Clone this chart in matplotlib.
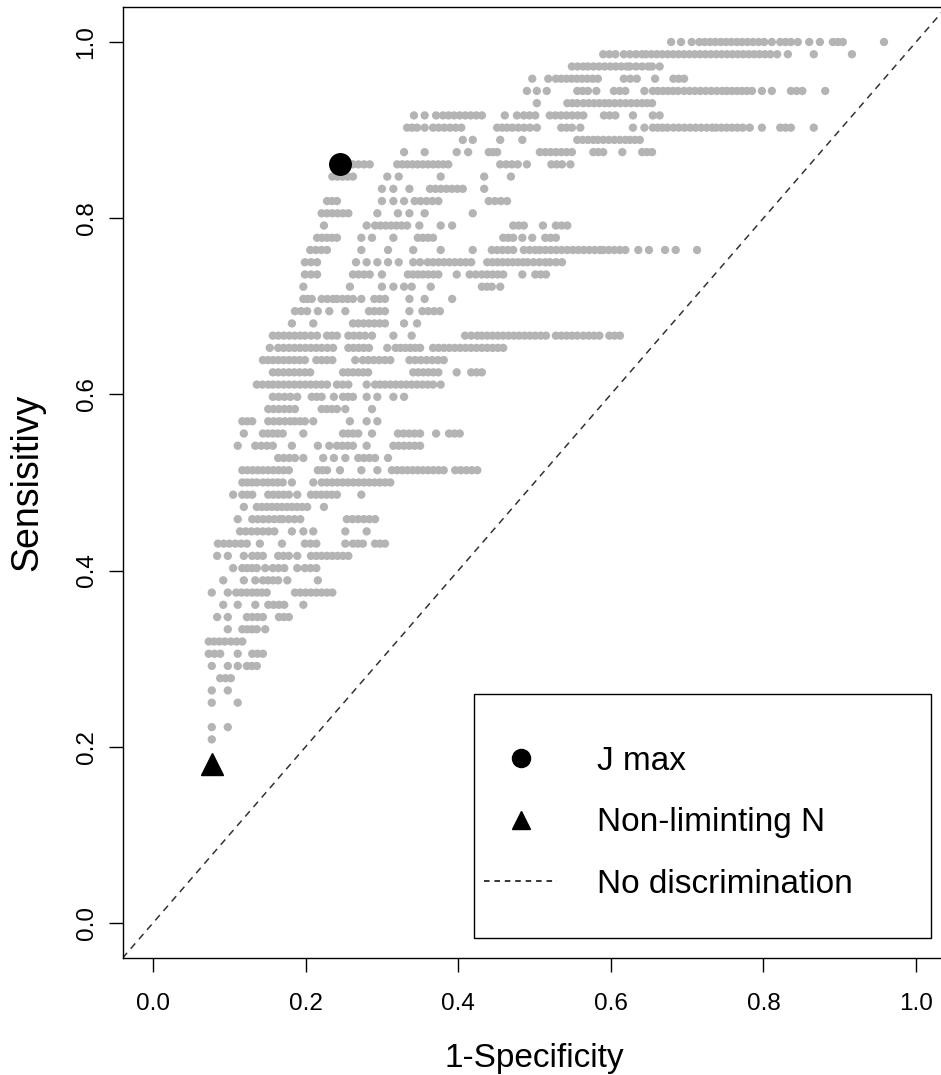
import numpy as np
import matplotlib
matplotlib.use('Agg')
import matplotlib.pyplot as plt
from matplotlib.patches import Rectangle
from matplotlib.lines import Line2D

plt.rcParams['font.family'] = ['Liberation Sans', 'DejaVu Sans']
plt.rcParams['lines.scale_dashes'] = False

# sensitivity comes in steps of 1/72, 1-specificity on a fine grid
N_POS = 72
X_STEP = 1 / 144

# row k (sensitivity = k/72): single x values or (start, end) runs of adjacent dots
ROWS = {
    72: [0.679, 0.692, 0.706, (0.716, 0.737), (0.744, 0.772), (0.779, 0.801), 0.811,
         (0.822, 0.836), 0.845, 0.860, 0.874, (0.891, 0.904), 0.958],
    71: [(0.590, 0.606), (0.617, 0.641), (0.646, 0.710), (0.717, 0.809), 0.818, 0.832,
         0.866, 0.916],
    70: [(0.549, 0.564), (0.570, 0.621), (0.625, 0.649), (0.654, 0.664)],
    69: [0.497, 0.518, (0.528, 0.583), (0.617, 0.634), 0.658, (0.682, 0.696)],
    68: [0.490, 0.503, 0.516, (0.556, 0.570), 0.581, (0.604, 0.619), 0.644, (0.655, 0.688),
         (0.696, 0.746), (0.752, 0.785), 0.798, 0.811, (0.836, 0.851), 0.881],
    67: [0.503, (0.543, 0.556), (0.564, 0.592), (0.598, 0.634), (0.641, 0.654)],
    66: [0.342, 0.356, 0.371, (0.380, 0.431), 0.461, 0.477, (0.486, 0.501), (0.520, 0.564),
         (0.591, 0.606), 0.629, (0.655, 0.664)],
    65: [(0.333, 0.346), 0.356, (0.367, 0.404), (0.451, 0.464), (0.471, 0.494), 0.503,
         (0.535, 0.549), 0.560, 0.629, 0.644, (0.655, 0.674), (0.682, 0.733), (0.738, 0.773),
         0.782, 0.798, (0.822, 0.836), 0.866],
    64: [0.406, 0.419, 0.455, 0.484, (0.556, 0.577), (0.583, 0.619), (0.625, 0.638)],
    63: [0.329, 0.356, 0.398, 0.413, (0.440, 0.451), (0.507, 0.549), (0.577, 0.590), 0.615,
         (0.641, 0.654)],
    62: [0.245, (0.262, 0.284), (0.320, 0.387), (0.455, 0.478), 0.490, (0.522, 0.536), 0.547],
    61: [(0.235, 0.262), 0.307, 0.322, 0.377, 0.434, 0.469],
    60: [0.300, 0.315, 0.336, (0.363, 0.406), 0.434],
    59: [(0.228, 0.241), 0.300, 0.315, 0.329, (0.343, 0.374), (0.440, 0.464)],
    58: [(0.221, 0.256), 0.294, 0.321, 0.336, 0.356, 0.419],
    57: [0.224, 0.280, (0.291, 0.333), 0.349, 0.377, 0.392, (0.472, 0.486), 0.511,
         (0.528, 0.543)],
    56: [(0.215, 0.241), 0.273, 0.287, 0.315, (0.347, 0.367), (0.459, 0.472), 0.484, 0.497,
         (0.514, 0.528)],
    55: [(0.206, 0.228), 0.273, 0.308, 0.341, 0.377, 0.419, (0.444, 0.472), (0.486, 0.501),
         (0.507, 0.586), (0.590, 0.619), 0.636, 0.650, 0.671, 0.685, 0.713],
    54: [(0.199, 0.215), 0.266, 0.280, 0.294, 0.308, 0.322, 0.341, (0.350, 0.360),
         (0.367, 0.417), (0.438, 0.485), (0.491, 0.514), (0.520, 0.536)],
    53: [(0.199, 0.215), (0.262, 0.284), 0.300, (0.334, 0.374), 0.398, (0.415, 0.431),
         (0.438, 0.459), 0.484, (0.501, 0.515)],
    52: [0.197, 0.258, 0.300, 0.315, 0.329, 0.339, 0.364, (0.431, 0.444), 0.455],
    51: [(0.197, 0.208), (0.221, 0.236), (0.241, 0.262), 0.273, (0.290, 0.304), 0.336,
         0.356, 0.392],
    50: [(0.186, 0.202), 0.216, 0.231, 0.252, (0.283, 0.304), 0.336, (0.353, 0.376)],
    49: [0.182, 0.210, (0.262, 0.304), 0.329, 0.346],
    48: [(0.157, 0.193), (0.199, 0.215), (0.228, 0.241), (0.256, 0.278), 0.287, 0.315, 0.339,
         (0.409, 0.425), (0.431, 0.515), (0.528, 0.556), (0.564, 0.585), (0.598, 0.612)],
    47: [0.153, (0.164, 0.214), (0.221, 0.236), (0.256, 0.283), 0.307, (0.318, 0.350),
         (0.367, 0.431), (0.438, 0.459)],
    46: [(0.144, 0.157), (0.164, 0.199), (0.214, 0.235), 0.265, (0.275, 0.311), (0.336, 0.381)],
    45: [(0.157, 0.206), (0.249, 0.262), (0.269, 0.282), (0.341, 0.374), 0.398, (0.417, 0.431)],
    44: [(0.136, 0.151), (0.157, 0.228), (0.241, 0.256), 0.280, (0.291, 0.304),
         (0.311, 0.367), 0.377],
    43: [(0.157, 0.180), 0.189, (0.208, 0.221), 0.237, (0.249, 0.262), 0.280, 0.294, 0.315,
         0.329],
    42: [(0.151, 0.186), (0.221, 0.241), 0.252, 0.287],
    41: [(0.117, 0.130), (0.151, 0.180), (0.186, 0.199), 0.210, 0.258, 0.280, 0.294],
    40: [0.119, (0.144, 0.170), 0.197, (0.249, 0.269), 0.287, (0.321, 0.350), 0.371,
         (0.388, 0.402)],
    39: [0.111, (0.134, 0.157), 0.182, 0.216, 0.231, (0.241, 0.262), 0.280, (0.315, 0.350)],
    38: [(0.164, 0.186), 0.197, 0.223, 0.237, 0.252, (0.269, 0.291), 0.308],
    37: [(0.117, 0.178), (0.216, 0.228), 0.245, 0.273, 0.294, (0.313, 0.381), (0.396, 0.425)],
    36: [(0.117, 0.136), (0.144, 0.170), 0.182, 0.210, (0.221, 0.311)],
    35: [0.105, (0.117, 0.130), (0.151, 0.178), 0.189, (0.207, 0.241), 0.273],
    34: [0.119, (0.136, 0.202), 0.224],
    33: [0.111, (0.130, 0.166), (0.170, 0.193), (0.254, 0.291)],
    32: [(0.114, 0.159), 0.182, 0.197, 0.210, 0.252, 0.280],
    31: [(0.085, 0.123), 0.140, 0.169, (0.199, 0.214), 0.252, (0.262, 0.275), (0.291, 0.304)],
    30: [0.084, 0.098, 0.119, (0.130, 0.144), (0.164, 0.178), 0.189, (0.207, 0.221),
         (0.228, 0.256)],
    29: [0.105, (0.117, 0.136), 0.147, (0.157, 0.172), 0.189, (0.199, 0.214)],
    28: [0.092, 0.119, 0.134, (0.144, 0.164), 0.176, 0.216],
    27: [0.077, 0.098, (0.109, 0.123), (0.130, 0.149), (0.186, 0.235)],
    26: [0.092, 0.111, 0.134, (0.151, 0.172), 0.197],
    25: [0.084, 0.098, (0.123, 0.144), (0.165, 0.178)],
    24: [0.098, (0.117, 0.136), 0.147],
    23: [(0.073, 0.094), (0.102, 0.117)],
    22: [(0.073, 0.088), 0.111, (0.130, 0.144)],
    21: [0.077, 0.098, 0.111, (0.123, 0.136)],
    20: [(0.088, 0.102)],
    19: [0.077, 0.098],
    18: [0.077, 0.111],
    16: [0.077, 0.098],
    15: [0.077],
}

JMAX = (0.245, 62 / 72)
NON_LIMITING = (0.077, 13 / 72)

TICKS = [0.0, 0.2, 0.4, 0.6, 0.8, 1.0]
TICK_LABELS = ['0.0', '0.2', '0.4', '0.6', '0.8', '1.0']

# expand rows into points
xs, ys = [], []
for k, runs in ROWS.items():
    for r in runs:
        a, b = r if isinstance(r, tuple) else (r, r)
        n = int(round((b - a) / X_STEP)) + 1
        xs.extend(np.linspace(a, b, n))
        ys.extend([k / N_POS] * n)

fig = plt.figure(figsize=(9.41, 10.75), dpi=100)
ax = fig.add_axes([0.1302, 0.1087, 0.8757, 0.8850])

ax.scatter(xs, ys, s=36, c='#b4b4b4', edgecolors='none', zorder=2)
ax.axline((0, 0), (1, 1), color='#333333', lw=1.1, dashes=(5, 4), zorder=1)
ax.plot(*JMAX, 'o', ms=15.5, color='black', zorder=3)
ax.plot(*NON_LIMITING, '^', ms=16, color='black', zorder=3)

ax.set_xlim(-0.04, 1.04)
ax.set_ylim(-0.04, 1.04)
ax.set_xticks(TICKS)
ax.set_xticklabels(TICK_LABELS)
ax.set_yticks(TICKS)
ax.set_yticklabels(TICK_LABELS, rotation=90, va='center')
ax.tick_params(axis='both', length=10, width=1, labelsize=17.5)
ax.tick_params(axis='x', pad=15)
ax.tick_params(axis='y', pad=8)
for sp in ax.spines.values():
    sp.set_linewidth(1)

ax.set_xlabel('1-Specificity', fontsize=24, labelpad=20)
ax.set_ylabel('Sensisitivy', fontsize=27, labelpad=22)

# legend box, drawn like R's legend()
ax.add_patch(Rectangle((0.4266, 0.0212), 0.5546, 0.2565, transform=ax.transAxes,
                       facecolor='white', edgecolor='black', lw=1, zorder=4))
handles = [
    Line2D([], [], marker='o', ls='none', color='black', ms=13),
    Line2D([], [], marker='^', ls='none', color='black', ms=13),
    Line2D([], [], color='black', lw=1.1, dashes=(4, 3.5)),
]
leg = ax.legend(handles, ['J max', 'Non-liminting N', 'No discrimination'],
                loc='upper left', bbox_to_anchor=(0.4387, 0.2230), frameon=False,
                borderpad=0, borderaxespad=0, handlelength=2.2, handletextpad=1.2,
                labelspacing=0.91, fontsize=24)
leg.set_zorder(5)

fig.savefig('out.png', dpi=100, facecolor='white')
